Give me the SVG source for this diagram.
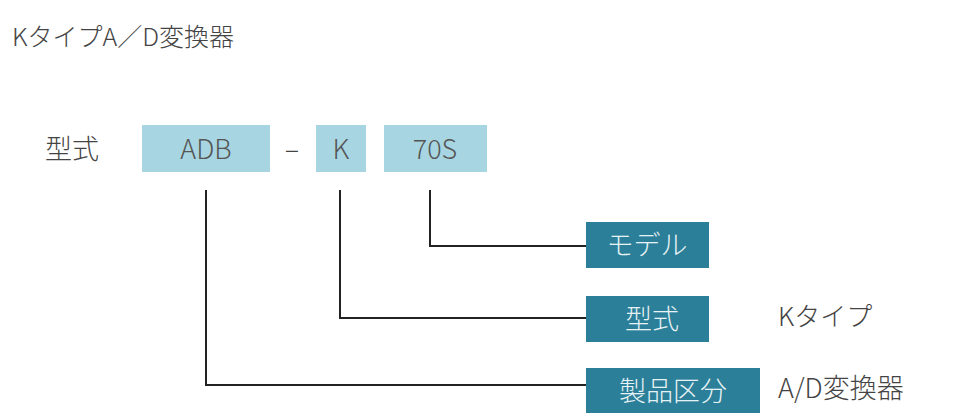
<svg xmlns="http://www.w3.org/2000/svg" width="964" height="420" viewBox="0 0 964 420">
<style>
text{font-family:"Noto Sans CJK JP","Liberation Sans",sans-serif;fill:#444;font-weight:300}
.lb{fill:#a8d5e2}.db{fill:#2b7f98}
.lt{font-size:27px;text-anchor:middle;fill:#555}
.dt{font-size:27px;text-anchor:middle;fill:#e6f2f5}
.c{stroke:#222;stroke-width:2;fill:none}
</style>
<rect width="964" height="420" fill="#fff"/>
<text x="12" y="46" font-size="25">KタイプA／D変換器</text>
<text x="45" y="159" font-size="27">型式</text>
<g id="adb"><rect class="lb" x="142" y="125" width="128" height="47"/><text class="lt" x="206" y="159">ADB</text></g>
<text x="292" y="159" font-size="27" text-anchor="middle">–</text>
<g id="k"><rect class="lb" x="316" y="125" width="50" height="47"/><text class="lt" x="341" y="159">K</text></g>
<g id="s70"><rect class="lb" x="384" y="125" width="103" height="47"/><text class="lt" x="435" y="159">70S</text></g>
<g id="connectors">
<path class="c" d="M430 190V246H586"/>
<path class="c" d="M340 190V318H586"/>
<path class="c" d="M206 190V385H586"/>
</g>
<g id="model"><rect class="db" x="586" y="222" width="123" height="46"/><text class="dt" x="647" y="255">モデル</text></g>
<g id="katashiki"><rect class="db" x="586" y="296" width="123" height="46"/><text class="dt" x="652" y="329">型式</text></g>
<g id="seihin"><rect class="db" x="586" y="368" width="174" height="45"/><text class="dt" x="673" y="401">製品区分</text></g>
<text x="778" y="326" font-size="26">Kタイプ</text>
<text x="778" y="398" font-size="27" fill="#222">A/D変換器</text>
</svg>
